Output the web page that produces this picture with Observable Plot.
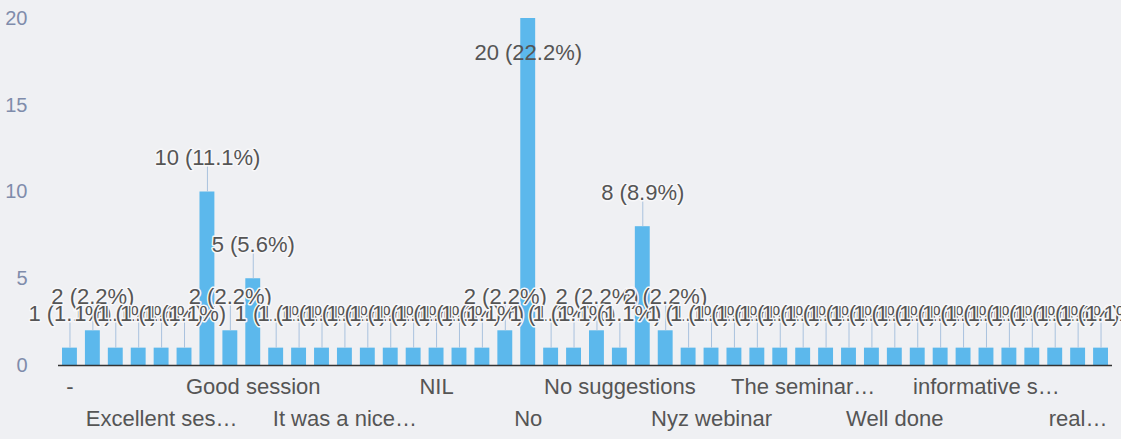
<!DOCTYPE html>
<html>
<head>
<meta charset="utf-8">
<script src="https://cdn.jsdelivr.net/npm/d3@7"></script>
<script src="https://cdn.jsdelivr.net/npm/@observablehq/plot@0.6"></script>
<style>
  html, body { margin: 0; padding: 0; background: #eff0f3; }
  #chart svg { display: block; background: radial-gradient(ellipse 420px 260px at 66% 30%, #f6e8f0 0%, #f1edf2 45%, #eef0f3 100%); }
</style>
</head>
<body>
<div id="chart"></div>
<script>
// Response categories (alphabetical, as in the reference chart)
const categories = [
  "-", "All good", "Awesome", "Excellent", "Excellent ses…", "Extremely useful",
  "Good", "Good program", "Good session", "Great", "Helpful", "Informative",
  "It was a nice…", "It was very useful", "Keep it up", "Knowledgeable",
  "NIL", "NO", "Na", "Nil", "No", "No comments", "No doubts", "No suggestion",
  "No suggestions", "Nothing", "Nothing to say", "Nyc", "Nyz webinar",
  "Over all good", "Superb", "Thank you", "The seminar…", "Useful", "Very good",
  "Very informative", "Well done", "Well organised", "good", "good session",
  "informative s…", "nice", "nil", "no", "real…", "useful"
];
// Response counts
const counts = [
  1, 2, 1, 1, 1, 1,
  10, 2, 5, 1, 1, 1,
  1, 1, 1, 1,
  1, 1, 1, 2, 20, 1, 1, 2,
  1, 8, 2, 1, 1,
  1, 1, 1, 1, 1, 1,
  1, 1, 1, 1, 1,
  1, 1, 1, 1, 1, 1
];
// Axis labels shown (two staggered rows)
const labelsRow1 = ["-", "Good session", "NIL", "No suggestions", "The seminar…", "informative s…"];
const labelsRow2 = ["Excellent ses…", "It was a nice…", "No", "Nyz webinar", "Well done", "real…"];
const yTicks = [0, 5, 10, 15, 20];

const total = d3.sum(counts);
const data = categories.map((name, i) => ({name, value: counts[i]}));
const maxV = d3.max(counts);
const normalBars = data.filter(d => d.value !== maxV);
const tallestBars = data.filter(d => d.value === maxV);
const lab = d => `${d.value} (${(d.value / total * 100).toFixed(1)}%)`;

const barColor = "#5cb8ec";
const textColor = "#555555";

const chart = Plot.plot({
  width: 1121,
  height: 439,
  marginLeft: 58,
  marginRight: 9,
  marginTop: 18,
  marginBottom: 74,
  style: {fontFamily: "'Liberation Sans', Arial, sans-serif", background: "transparent"},
  x: {domain: categories, paddingInner: 0.35, paddingOuter: 0.175, axis: null},
  y: {domain: [0, 20], axis: null},
  marks: [
    Plot.axisY({ticks: yTicks, tickSize: 0, tickPadding: 31, fontSize: 20, fill: "#7f8cab", label: null}),
    Plot.barY(data, {x: "name", y: "value", fill: barColor}),
    Plot.ruleY([0], {stroke: "#333333", strokeWidth: 1.5}),
    Plot.ruleX(normalBars, {x: "name", y1: "value", y2: d => d.value + 1.5, stroke: "#a9c2de", strokeWidth: 1}),
    Plot.text(normalBars, {x: "name", y: "value", text: lab, dy: -34, fontSize: 22, fill: textColor, stroke: "#f7f7f9", strokeWidth: 3}),
    Plot.text(tallestBars, {x: "name", y: "value", text: lab, dy: 34, fontSize: 22, fill: textColor}),
    Plot.axisX(labelsRow1, {tickSize: 0, tickPadding: 13, fontSize: 22, fill: textColor, label: null}),
    Plot.axisX(labelsRow2, {tickSize: 0, tickPadding: 45, fontSize: 22, fill: textColor, label: null})
  ]
});
document.getElementById("chart").appendChild(chart);
</script>
</body>
</html>
